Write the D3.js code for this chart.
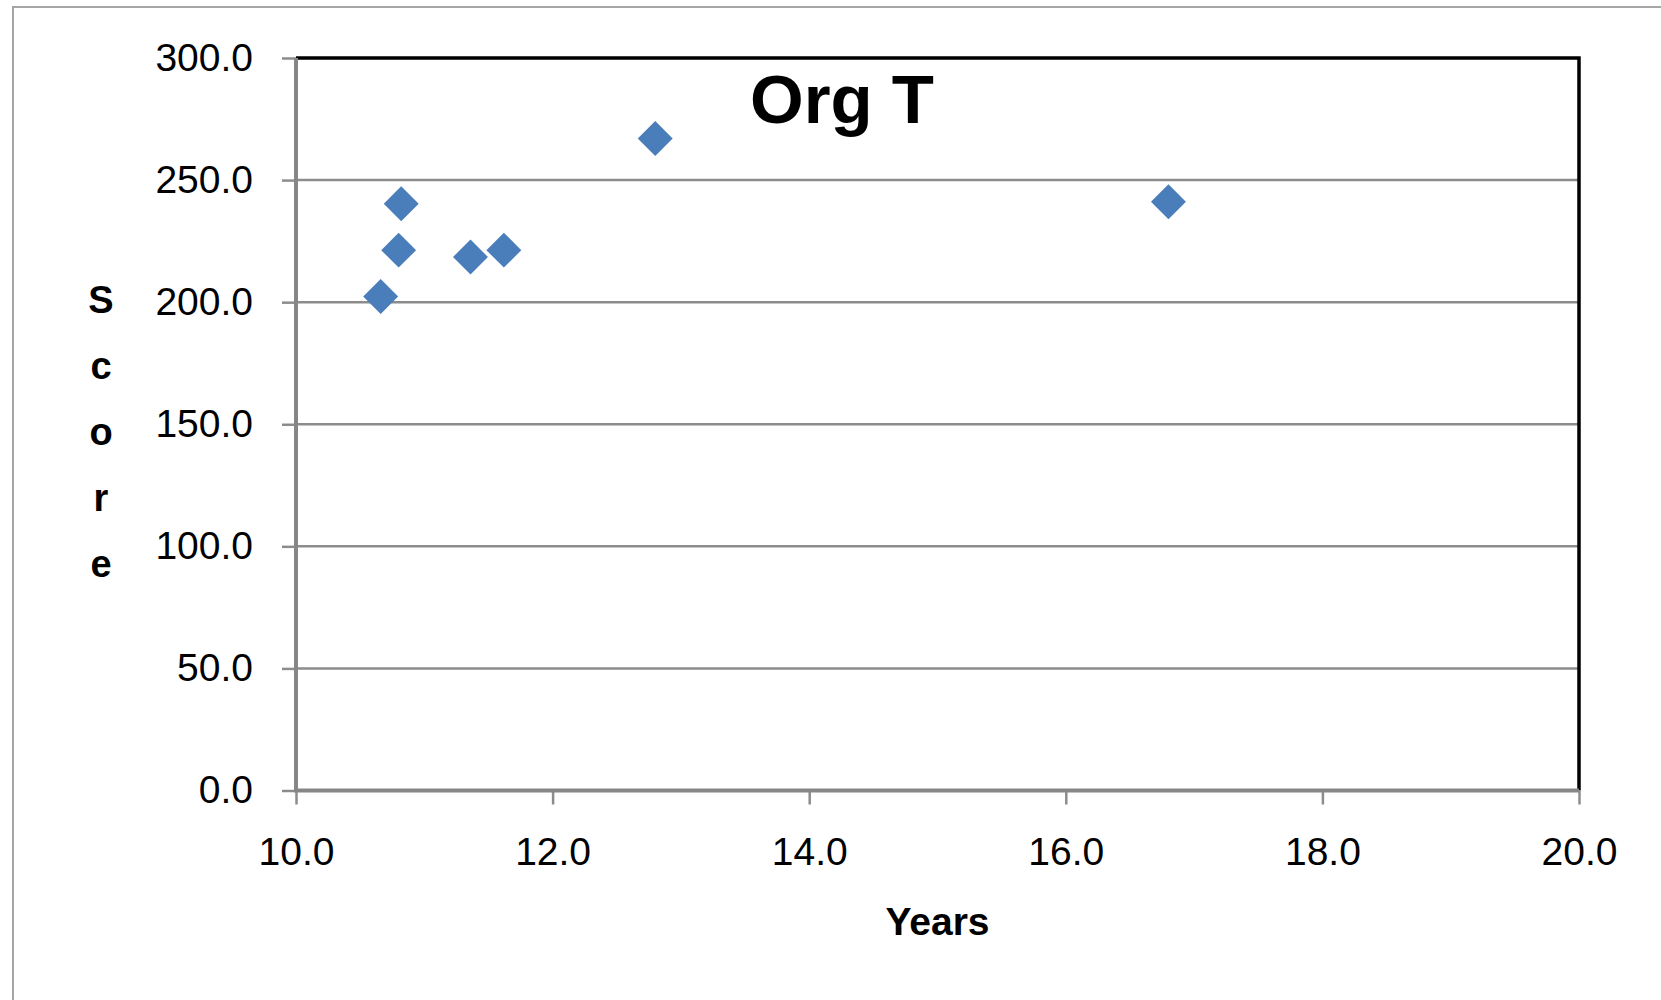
<!DOCTYPE html>
<html>
<head>
<meta charset="utf-8">
<script src="https://cdn.jsdelivr.net/npm/d3@7"></script>
<style>
  body { margin: 0; background: #fff; }
  text { font-family: "Liberation Sans", Arial, sans-serif; fill: #000; }
  .tick text { font-size: 39px; }
</style>
</head>
<body>
<div id="chart"></div>
<script>
// data
const years  = [10.66, 10.82, 10.80, 11.36, 11.62, 12.80, 16.80];
const scores = [202.3, 240.3, 221.3, 218.5, 221.3, 267.0, 241.1];
const xTicks = [10, 12, 14, 16, 18, 20];
const yTicks = [0, 50, 100, 150, 200, 250, 300];
const title = "Org T";
const xLabel = "Years";
const yLabel = "Score";

const W = 1661, H = 1000;
const plot = {left: 296, right: 1579, top: 58, bottom: 790.5};

const svg = d3.select("#chart").append("svg")
    .attr("width", W)
    .attr("height", H);

// outer chart frame (runs off right/bottom edges)
svg.append("rect")
    .attr("x", 13).attr("y", 7)
    .attr("width", W).attr("height", H)
    .attr("fill", "#fff")
    .attr("stroke", "#a6a6a6")
    .attr("stroke-width", 2);

const x = d3.scaleLinear().domain([10, 20]).range([plot.left, plot.right]);
const y = d3.scaleLinear().domain([0, 300]).range([plot.bottom, plot.top]);

// gridlines
svg.append("g")
    .selectAll("line")
    .data(yTicks.filter(d => d > 0 && d < 300))
    .join("line")
    .attr("x1", plot.left).attr("x2", plot.right)
    .attr("y1", d => y(d)).attr("y2", d => y(d))
    .attr("stroke", "#8c8c8c")
    .attr("stroke-width", 2.5);

// top and right border of plot area
svg.append("path")
    .attr("d", `M${plot.left},${plot.top}H${plot.right}V${plot.bottom}`)
    .attr("fill", "none")
    .attr("stroke", "#000")
    .attr("stroke-width", 3.5);

// y axis
const yAxis = d3.axisLeft(y)
    .tickValues(yTicks)
    .tickFormat(d3.format(".1f"))
    .tickSize(14)
    .tickPadding(29);

svg.append("g")
    .attr("transform", `translate(${plot.left},0)`)
    .call(yAxis)
    .call(g => g.select(".domain").remove())
    .call(g => g.selectAll(".tick line").attr("stroke", "#8c8c8c").attr("stroke-width", 2.5))
    .call(g => g.selectAll(".tick text").attr("fill", "#000"));

// x axis
const xAxis = d3.axisBottom(x)
    .tickValues(xTicks)
    .tickFormat(d3.format(".1f"))
    .tickSize(14)
    .tickPadding(33);

svg.append("g")
    .attr("transform", `translate(0,${plot.bottom})`)
    .call(xAxis)
    .call(g => g.select(".domain").remove())
    .call(g => g.selectAll(".tick line").attr("stroke", "#8c8c8c").attr("stroke-width", 2.5))
    .call(g => g.selectAll(".tick text").attr("fill", "#000"));

// axis lines
svg.append("path")
    .attr("d", `M${plot.left},${plot.top}V${plot.bottom}H${plot.right}`)
    .attr("fill", "none")
    .attr("stroke", "#868686")
    .attr("stroke-width", 4);

// points (diamonds)
const pts = years.map((v, i) => ({x: v, y: scores[i]}));
const diamond = d3.symbol(d3.symbolSquare).size(610);

svg.append("g")
    .selectAll("path")
    .data(pts)
    .join("path")
    .attr("d", diamond)
    .attr("transform", d => `translate(${x(d.x)},${y(d.y)}) rotate(45)`)
    .attr("fill", "#4a7ebb");

// title
svg.append("text")
    .attr("x", 842)
    .attr("y", 123)
    .attr("text-anchor", "middle")
    .style("font-size", "69px")
    .style("font-weight", "bold")
    .text(title);

// x label
svg.append("text")
    .attr("x", (plot.left + plot.right) / 2)
    .attr("y", 935)
    .attr("text-anchor", "middle")
    .style("font-size", "39px")
    .style("font-weight", "bold")
    .text(xLabel);

// y label, letters stacked
svg.append("g")
    .selectAll("text")
    .data(yLabel.split(""))
    .join("text")
    .attr("x", 101)
    .attr("y", (d, i) => 313 + i * 66)
    .attr("text-anchor", "middle")
    .style("font-size", "38px")
    .style("font-weight", "bold")
    .text(d => d);
</script>
</body>
</html>
